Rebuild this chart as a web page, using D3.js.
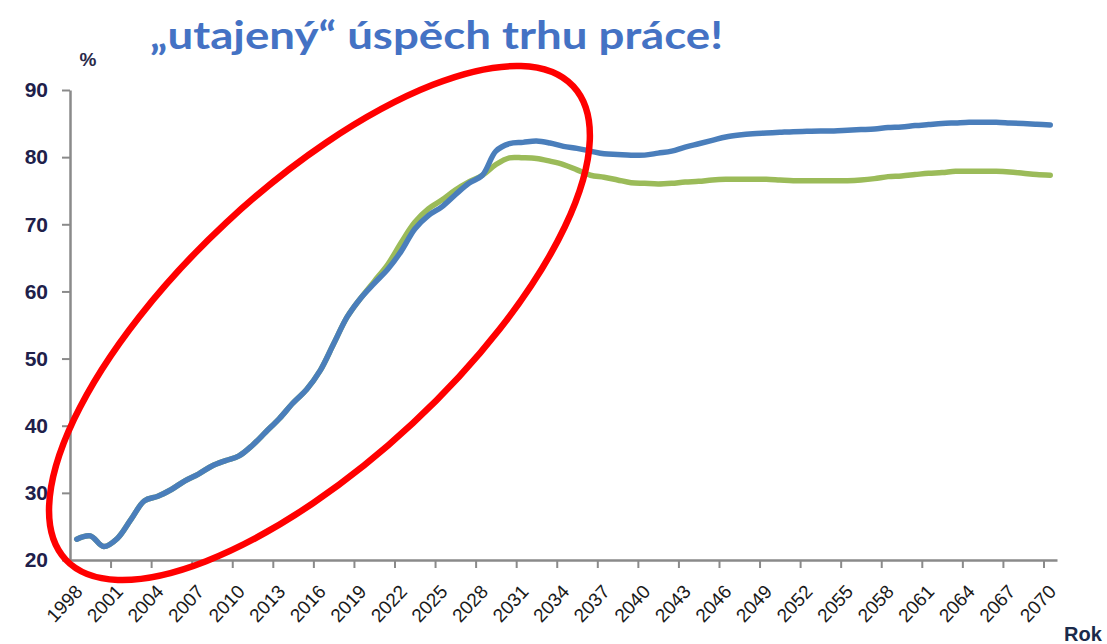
<!DOCTYPE html>
<html><head><meta charset="utf-8">
<script src="https://cdn.jsdelivr.net/npm/d3@7"></script>
<style>
html,body{margin:0;padding:0;background:#fff;}
svg{display:block;}
</style></head>
<body>
<svg id="c" width="1107" height="644"></svg>
<script>
const titleText = "„utajený“ úspěch trhu práce!";
const yUnit = "%";
const xUnit = "Rok";
const years = d3.range(1998, 2071);
const yTicks = [20, 30, 40, 50, 60, 70, 80, 90];
const xLabelYears = d3.range(1998, 2071, 3);

// blue series
const blue = [
  23.1, 23.6, 22.0, 23.2, 26.0, 28.8, 29.5, 30.5, 31.8, 32.8,
  34.0, 34.8, 35.5, 37.1, 39.1, 41.1, 43.4, 45.4, 48.2, 52.2,
  56.2, 59.0, 61.2, 63.3, 66.0, 69.3, 71.3, 72.6, 74.4, 76.1,
  77.3, 80.9, 82.0, 82.2, 82.4, 82.1, 81.6, 81.3, 80.9, 80.5,
  80.4, 80.3, 80.3, 80.6, 80.9, 81.5, 82.0, 82.5, 83.0, 83.3,
  83.5, 83.6, 83.7, 83.8, 83.85, 83.9, 83.9, 84.0, 84.1, 84.2,
  84.4, 84.5, 84.7, 84.85, 85.0, 85.1, 85.2, 85.2, 85.2, 85.1,
  85.0, 84.9, 84.8
];
// green series
const green = [
  23.1, 23.6, 22.0, 23.2, 26.0, 28.8, 29.5, 30.5, 31.8, 32.8,
  34.0, 34.8, 35.5, 37.1, 39.1, 41.1, 43.4, 45.4, 48.2, 52.2,
  56.2, 59.0, 61.5, 64.0, 67.3, 70.3, 72.3, 73.6, 75.1, 76.3,
  77.3, 78.9, 79.9, 79.9, 79.8, 79.4, 78.9, 78.1, 77.3, 77.0,
  76.6, 76.2, 76.1, 76.0, 76.1, 76.3, 76.4, 76.6, 76.7, 76.7,
  76.7, 76.7, 76.6, 76.5, 76.5, 76.5, 76.5, 76.5, 76.6, 76.8,
  77.1, 77.2, 77.4, 77.6, 77.7, 77.9, 77.9, 77.9, 77.9, 77.8,
  77.6, 77.4, 77.3
];

const svg = d3.select("#c");
const L = 70, R = 1057, T = 90, B = 560;
const axisColor = "#8a8a8a";

const xb = d3.scaleBand().domain(years).range([L, R]).padding(0);
const xi = d3.scaleLinear().domain([0, years.length]).range([L, R]);
const y = d3.scaleLinear().domain([20, 90]).range([B, T]);
const cx = yr => xb(yr) + xb.bandwidth() / 2;

// title
svg.append("text")
  .attr("x", 150).attr("y", 49)
  .attr("textLength", 573).attr("lengthAdjust", "spacingAndGlyphs")
  .style("font-family", "Lato, 'Open Sans', sans-serif")
  .style("font-weight", "bold").style("font-size", "39px")
  .style("fill", "#4472C4")
  .text(titleText);

// y axis
const gy = svg.append("g").attr("transform", `translate(${L},0)`)
  .call(d3.axisLeft(y).tickValues(yTicks).tickSize(8).tickPadding(14).tickSizeOuter(0));
gy.select(".domain").attr("stroke", axisColor).attr("stroke-width", 2.5);
gy.selectAll(".tick line").attr("stroke", axisColor).attr("stroke-width", 2);
gy.selectAll(".tick text")
  .style("font-family", "'Liberation Sans', Arial, sans-serif")
  .style("font-size", "21px").style("font-weight", "bold")
  .style("fill", "#20204a");

// x axis ticks at category boundaries
const gxt = svg.append("g").attr("transform", `translate(0,${B})`)
  .call(d3.axisBottom(xi).tickValues(d3.range(3, years.length, 3)).tickSize(8).tickFormat("").tickSizeOuter(0));
gxt.select(".domain").attr("stroke", axisColor).attr("stroke-width", 2.5);
gxt.selectAll(".tick line").attr("stroke", axisColor).attr("stroke-width", 2);

// x labels
const gxl = svg.append("g");
gxl.selectAll("text").data(xLabelYears).join("text")
  .attr("transform", d => `translate(${cx(d) + 2},${B + 28}) rotate(-47)`)
  .attr("text-anchor", "end")
  .attr("dy", "0.35em")
  .style("font-family", "'Liberation Sans', Arial, sans-serif")
  .style("font-size", "19px")
  .style("fill", "#1a1a1a")
  .text(d => d);

// unit labels
svg.append("text").attr("x", 88).attr("y", 66).attr("text-anchor", "middle")
  .style("font-family", "'Liberation Sans', Arial, sans-serif")
  .style("font-weight", "bold").style("font-size", "19px").style("fill", "#2a2a4a")
  .text(yUnit);
svg.append("text").attr("x", 1064).attr("y", 641)
  .style("font-family", "'Liberation Sans', Arial, sans-serif")
  .style("font-weight", "bold").style("font-size", "20px").style("fill", "#1a2a4a")
  .text(xUnit);

// lines
const line = d3.line().x((d, i) => cx(years[i])).y(d => y(d)).curve(d3.curveCatmullRom.alpha(0.5));
svg.append("path").datum(green).attr("d", line)
  .attr("fill", "none").attr("stroke", "#9BBB59").attr("stroke-width", 5.5)
  .attr("stroke-linejoin", "round").attr("stroke-linecap", "round");
svg.append("path").datum(blue).attr("d", line)
  .attr("fill", "none").attr("stroke", "#4A7EBB").attr("stroke-width", 5.5)
  .attr("stroke-linejoin", "round").attr("stroke-linecap", "round");

// red ellipse annotation (centre in data coordinates)
const ellCenterIndex = 18.45, ellCenterValue = 55.3;
const ex = xi(ellCenterIndex), ey = y(ellCenterValue);
svg.append("ellipse")
  .attr("cx", ex).attr("cy", ey).attr("rx", 347).attr("ry", 137)
  .attr("transform", `rotate(-43,${ex},${ey})`)
  .attr("fill", "none").attr("stroke", "#FF0000").attr("stroke-width", 6.5);
</script>
</body></html>
